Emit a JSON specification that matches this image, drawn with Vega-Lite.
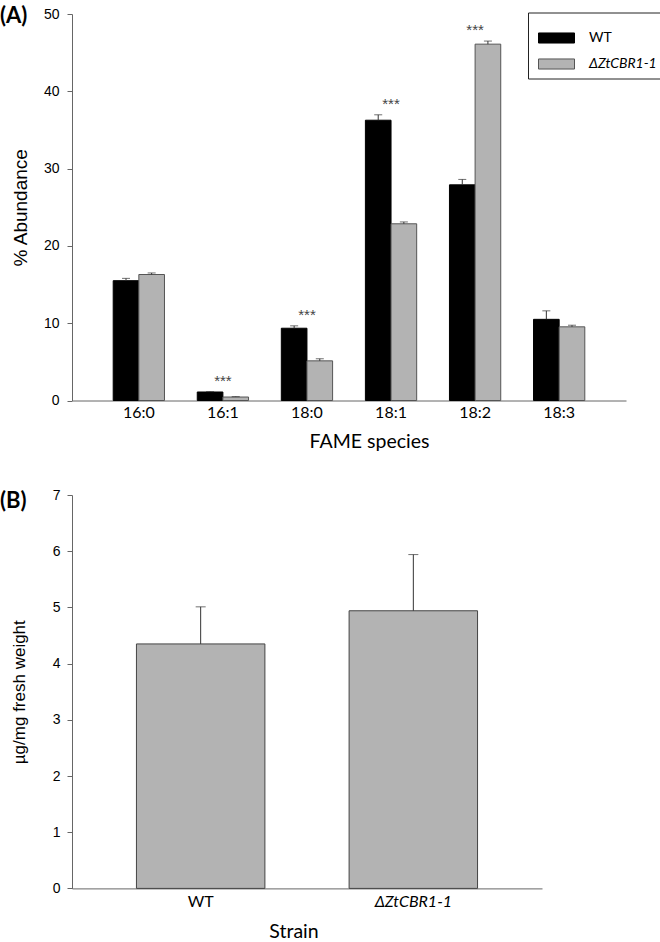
{
  "$schema": "https://vega.github.io/schema/vega-lite/v6.json",
  "padding": {"left": 0, "top": 5, "right": 0, "bottom": 0},
  "background": "white",
  "config": {
    "view": {"stroke": null},
    "axis": {"domainColor": "#666", "tickColor": "#666", "labelColor": "#000", "titleColor": "#000", "grid": false, "titleFontWeight": "normal"}
  },
  "spacing": 37,
  "vconcat": [
    {
      "title": {"text": "(A)", "anchor": "start", "frame": "group", "orient": "top", "offset": -28, "dx": -72, "dy": 10, "font": "Lato", "fontSize": 22, "fontWeight": "bold", "color": "#000", "baseline": "alphabetic"},
      "width": 554,
      "height": 386.5,
      "data": {"values": [
        {"species": "16:0", "strain": "WT", "mean": 15.5, "upper": 15.8},
        {"species": "16:0", "strain": "ΔZtCBR1-1", "mean": 16.3, "upper": 16.5},
        {"species": "16:1", "strain": "WT", "mean": 1.1, "upper": 1.15},
        {"species": "16:1", "strain": "ΔZtCBR1-1", "mean": 0.45, "upper": 0.5},
        {"species": "18:0", "strain": "WT", "mean": 9.35, "upper": 9.66},
        {"species": "18:0", "strain": "ΔZtCBR1-1", "mean": 5.13, "upper": 5.4},
        {"species": "18:1", "strain": "WT", "mean": 36.26, "upper": 36.96},
        {"species": "18:1", "strain": "ΔZtCBR1-1", "mean": 22.86, "upper": 23.1},
        {"species": "18:2", "strain": "WT", "mean": 27.9, "upper": 28.6},
        {"species": "18:2", "strain": "ΔZtCBR1-1", "mean": 46.1, "upper": 46.5},
        {"species": "18:3", "strain": "WT", "mean": 10.5, "upper": 11.6},
        {"species": "18:3", "strain": "ΔZtCBR1-1", "mean": 9.53, "upper": 9.74}
      ]},
      "encoding": {
        "x": {"field": "species", "type": "nominal", "sort": ["16:0", "16:1", "18:0", "18:1", "18:2", "18:3"],
          "scale": {"paddingInner": 0.39, "paddingOuter": 0.49},
          "axis": {"title": "FAME species", "labelAngle": 0, "ticks": false, "labelFont": "Lato", "labelFontSize": 16, "labelPadding": 4,
            "titleFont": "Lato", "titleFontSize": 19.5, "titleX": 297, "titleY": 47, "titleBaseline": "alphabetic"}}
      },
      "layer": [
        {
          "mark": {"type": "bar", "strokeWidth": 1},
          "encoding": {
            "xOffset": {"field": "strain", "type": "nominal", "sort": ["WT", "ΔZtCBR1-1"], "scale": {"paddingInner": 0, "paddingOuter": 0}},
            "y": {"field": "mean", "type": "quantitative", "scale": {"domain": [0, 50]},
              "axis": {"title": "% Abundance", "values": [0, 10, 20, 30, 40, 50], "labelFont": "Liberation Sans", "labelFontSize": 14, "tickSize": 5, "labelPadding": 8,
                "titleFont": "Liberation Sans", "titleFontSize": 19, "titleX": -46, "titleBaseline": "alphabetic"}},
            "fill": {"field": "strain", "type": "nominal", "sort": ["WT", "ΔZtCBR1-1"],
              "scale": {"domain": ["WT", "ΔZtCBR1-1"], "range": ["#000000", "#b3b3b3"]},
              "legend": {"orient": "none", "legendX": 456, "legendY": -1.5, "title": null, "strokeColor": "#222", "fillColor": "#ffffff", "padding": 7,
                "symbolType": "M-1,-0.28H1V0.28H-1Z", "symbolSize": 1296, "symbolStrokeColor": "#444", "symbolStrokeWidth": 1, "symbolOffset": 3,
                "labelFont": "Lato", "labelFontSize": 14, "labelOffset": 14, "rowPadding": -8, "labelLimit": 200,
                "encode": {"labels": {"update": {"fontStyle": {"signal": "datum.value === 'WT' ? 'normal' : 'italic'"}}}}}},
            "stroke": {"field": "strain", "type": "nominal", "scale": {"domain": ["WT", "ΔZtCBR1-1"], "range": ["#000000", "#555555"]}, "legend": null}
          }
        },
        {
          "mark": {"type": "rule", "color": "#333", "strokeWidth": 1},
          "encoding": {
            "xOffset": {"field": "strain", "type": "nominal", "sort": ["WT", "ΔZtCBR1-1"]},
            "y": {"field": "mean", "type": "quantitative"},
            "y2": {"field": "upper"}
          }
        },
        {
          "mark": {"type": "tick", "color": "#333", "thickness": 1, "size": 8},
          "encoding": {
            "xOffset": {"field": "strain", "type": "nominal", "sort": ["WT", "ΔZtCBR1-1"]},
            "y": {"field": "upper", "type": "quantitative"}
          }
        },
        {
          "data": {"values": [
            {"species": "16:1", "top": 1.15, "sig": "***"},
            {"species": "18:0", "top": 9.66, "sig": "***"},
            {"species": "18:1", "top": 36.96, "sig": "***"},
            {"species": "18:2", "top": 46.5, "sig": "***"}
          ]},
          "mark": {"type": "text", "font": "Liberation Sans", "fontSize": 15, "color": "#444", "baseline": "middle", "dy": -11},
          "encoding": {
            "y": {"field": "top", "type": "quantitative"},
            "text": {"field": "sig"}
          }
        }
      ]
    },
    {
      "title": {"text": "(B)", "anchor": "start", "frame": "group", "orient": "top", "offset": -28, "dx": -72, "dy": 14, "font": "Lato", "fontSize": 22, "fontWeight": "bold", "color": "#000", "baseline": "alphabetic"},
      "width": 470,
      "height": 393.4,
      "data": {"values": [
        {"strain": "WT", "mean": 4.35, "upper": 5.01},
        {"strain": "ΔZtCBR1-1", "mean": 4.94, "upper": 5.94}
      ]},
      "encoding": {
        "x": {"field": "strain", "type": "nominal", "sort": ["WT", "ΔZtCBR1-1"],
          "scale": {"paddingInner": 0.396, "paddingOuter": 0.303},
          "axis": {"title": "Strain", "labelAngle": 0, "ticks": false, "labelFont": "Lato", "labelFontSize": 16, "labelPadding": 5,
            "titleFont": "Lato", "titleFontSize": 19.5, "titleX": 221.5, "titleY": 49, "titleBaseline": "alphabetic",
            "labelFontStyle": {"condition": {"test": "datum.value === 'WT'", "value": "normal"}, "value": "italic"}}}
      },
      "layer": [
        {
          "mark": {"type": "bar", "fill": "#b3b3b3", "stroke": "#444", "strokeWidth": 1},
          "encoding": {
            "y": {"field": "mean", "type": "quantitative", "scale": {"domain": [0, 7]},
              "axis": {"title": "µg/mg fresh weight", "values": [0, 1, 2, 3, 4, 5, 6, 7], "format": "d", "labelFont": "Liberation Sans", "labelFontSize": 14, "tickSize": 5, "labelPadding": 7,
                "titleFont": "Liberation Sans", "titleFontSize": 17, "titleX": -48, "titleBaseline": "alphabetic"}}
          }
        },
        {
          "mark": {"type": "rule", "color": "#333", "strokeWidth": 1},
          "encoding": {
            "y": {"field": "mean", "type": "quantitative"},
            "y2": {"field": "upper"}
          }
        },
        {
          "mark": {"type": "tick", "color": "#333", "thickness": 1, "size": 10},
          "encoding": {
            "y": {"field": "upper", "type": "quantitative"}
          }
        }
      ]
    }
  ]
}
